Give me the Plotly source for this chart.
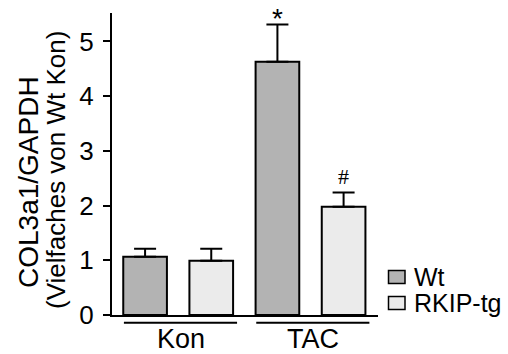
import plotly.graph_objects as go

# ---- data ----
groups = ["Kon", "TAC"]
series = ["Wt", "RKIP-tg"]
wt_vals = [1.066, 4.63]
wt_err = [0.146, 0.68]
rk_vals = [0.993, 1.98]
rk_err = [0.22, 0.26]
y_ticks = [0, 1, 2, 3, 4, 5]
sig_wt = ["", "*"]
sig_rk = ["", "#"]

# ---- layout helpers ----
W, H = 508, 354
L, R, T, B = 112, 130, 13, 39
PW, PH = W - L - R, H - T - B
def px(x):
    return (x - L) / PW
def py(y):
    return (H - B - y) / PH

FONT = "Liberation Sans, Arial, sans-serif"
WT_COL = "#b3b3b3"
RK_COL = "#ebebeb"

# bar positions: each group has 2 bars at consecutive integer slots
wt_x = [2 * i for i in range(len(groups))]
rk_x = [2 * i + 1 for i in range(len(groups))]

fig = go.Figure()
fig.add_trace(go.Bar(
    x=wt_x, y=wt_vals, width=0.66, name=series[0],
    marker=dict(color=WT_COL, line=dict(color="black", width=2)),
    error_y=dict(type="data", symmetric=False, array=wt_err,
                 arrayminus=[0] * len(wt_err), color="black",
                 thickness=2, width=11),
    showlegend=False,
))
fig.add_trace(go.Bar(
    x=rk_x, y=rk_vals, width=0.66, name=series[1],
    marker=dict(color=RK_COL, line=dict(color="black", width=2)),
    error_y=dict(type="data", symmetric=False, array=rk_err,
                 arrayminus=[0] * len(rk_err), color="black",
                 thickness=2, width=11),
    showlegend=False,
))

annotations = []
shapes = []

# significance marks
for xs, vals, errs, marks, fnt, sz, shift in [
    (wt_x, wt_vals, wt_err, sig_wt, FONT, 28, -12),
    (rk_x, rk_vals, rk_err, sig_rk, "Liberation Serif, Times New Roman, serif", 22, 1),
]:
    for xi, v, e, m in zip(xs, vals, errs, marks):
        if m:
            annotations.append(dict(
                x=xi, y=v + e, xref="x", yref="y", text=m, showarrow=False,
                yanchor="bottom", yshift=shift,
                font=dict(family=fnt, size=sz, color="black")))

# group lines and labels
for i, g in enumerate(groups):
    p = 2 * i
    shapes.append(dict(type="line", xref="x", yref="paper",
                       x0=p - 0.32, x1=p + 1.39, y0=py(322.7), y1=py(322.7),
                       line=dict(color="black", width=2)))
    annotations.append(dict(x=p + 0.54, y=py(339), xref="x", yref="paper",
                            text=g, showarrow=False, yanchor="middle",
                            font=dict(family=FONT, size=27, color="black")))

# y-axis title (two lines)
annotations.append(dict(x=px(28), y=py(182), xref="paper", yref="paper",
                        text="COL3a1/GAPDH", textangle=-90, showarrow=False,
                        xanchor="center", yanchor="middle",
                        font=dict(family=FONT, size=28, color="black")))
annotations.append(dict(x=px(56), y=py(170), xref="paper", yref="paper",
                        text="(Vielfaches von Wt Kon)", textangle=-90, showarrow=False,
                        xanchor="center", yanchor="middle",
                        font=dict(family=FONT, size=26, color="black")))

# manual legend
for name, col, yc in [(series[0], WT_COL, 277), (series[1], RK_COL, 303)]:
    shapes.append(dict(type="rect", xref="paper", yref="paper",
                       x0=px(388.5), x1=px(405), y0=py(yc - 6.5), y1=py(yc + 6.5),
                       fillcolor=col, line=dict(color="black", width=1.5)))
    annotations.append(dict(x=px(412), y=py(yc), xref="paper", yref="paper",
                            text=name, showarrow=False, xanchor="left", yanchor="middle",
                            font=dict(family=FONT, size=25, color="black")))

fig.update_layout(
    width=W, height=H,
    margin=dict(l=L, r=R, t=T, b=B, pad=0),
    paper_bgcolor="white", plot_bgcolor="white",
    barmode="overlay",
    annotations=annotations, shapes=shapes,
    font=dict(family=FONT, size=24, color="black"),
    xaxis=dict(range=[-0.5, 3.52], showline=True, linecolor="black", linewidth=2,
               showticklabels=False, ticks="", showgrid=False, zeroline=False,
               fixedrange=True),
    yaxis=dict(range=[0, 5.52], tickvals=y_ticks, ticks="outside", ticklen=7,
               tickwidth=2, tickcolor="black", showline=True, linecolor="black",
               linewidth=2, showgrid=False, zeroline=False,
               tickfont=dict(family=FONT, size=26, color="black"),
               ticklabelstandoff=4, fixedrange=True),
)

fig.write_html("out.html")
